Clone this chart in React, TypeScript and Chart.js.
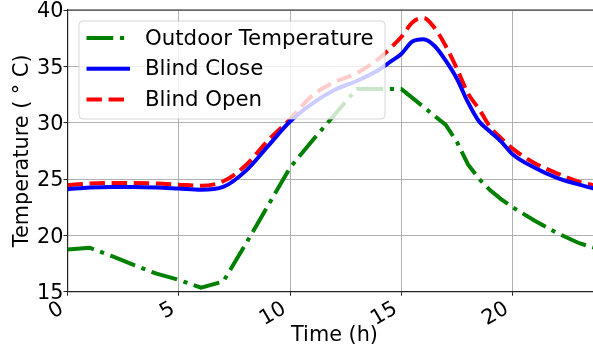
import React, { useEffect, useRef } from "react";
import { Chart, registerables } from "chart.js";

Chart.register(...registerables);

// Simulation time stamps (h)
const hours = [
  0, 1, 2, 3, 4, 5, 6, 7, 8, 9, 10, 11, 12, 13, 14, 14.5, 15, 15.5, 16, 16.5,
  17, 17.5, 18, 18.5, 19, 19.5, 20, 21, 22, 23, 24,
];

// Temperatures (°C) at each time stamp
const outdoorTemp = [
  18.75, 18.9, 18.15, 17.35, 16.6, 16.05, 15.35, 15.9, 19.2, 22.6, 26.0, 28.4,
  30.7, 33.0, 33.0, 33.0, 33.0, 32.2, 31.4, 30.6, 29.8, 28.3, 26.3, 25.0, 24.0,
  23.2, 22.5, 21.3, 20.2, 19.3, 18.7,
];
const blindClose = [
  24.1, 24.25, 24.3, 24.3, 24.25, 24.15, 24.05, 24.3, 25.7, 27.9, 30.1, 31.7,
  32.9, 33.7, 34.7, 35.4, 36.1, 37.2, 37.4, 36.8, 35.5, 33.9, 31.8, 30.1, 29.2,
  28.3, 27.2, 26.0, 25.1, 24.5, 24.0,
];
const blindOpen = [
  24.45, 24.6, 24.65, 24.65, 24.6, 24.5, 24.4, 24.8, 26.2, 28.4, 30.3, 32.4,
  33.6, 34.4, 35.7, 36.6, 37.6, 38.9, 39.3, 38.4, 36.8, 34.8, 32.6, 31.2, 29.6,
  28.6, 27.7, 26.4, 25.5, 24.75, 24.3,
];

const seriesLabels = ["Outdoor Temperature", "Blind Close", "Blind Open"];
const xTicks = [0, 5, 10, 15, 20];
const yTicks = [15, 20, 25, 30, 35, 40];

const FONT = "DejaVu Sans";
const FONT_SIZE = 20.8;

const toPoints = (ys: number[]) => hours.map((h, i) => ({ x: h, y: ys[i] }));

// Top spine of the axes frame
const topSpine = {
  id: "topSpine",
  afterDatasetsDraw(chart: any) {
    const { ctx, chartArea } = chart;
    ctx.save();
    ctx.strokeStyle = "#222";
    ctx.lineWidth = 1.2;
    ctx.beginPath();
    ctx.moveTo(chartArea.left, chartArea.top);
    ctx.lineTo(chartArea.right, chartArea.top);
    ctx.stroke();
    ctx.restore();
  },
};

// Framed legend drawn inside the plot, over the lines
const insetLegend = {
  id: "insetLegend",
  afterDatasetsDraw(chart: any) {
    const { ctx, chartArea } = chart;
    const x0 = chartArea.left + 11.5;
    const y0 = chartArea.top + 11;
    const w = 306;
    const h = 98;
    const r = 4;
    ctx.save();
    ctx.beginPath();
    ctx.moveTo(x0 + r, y0);
    ctx.lineTo(x0 + w - r, y0);
    ctx.arcTo(x0 + w, y0, x0 + w, y0 + r, r);
    ctx.lineTo(x0 + w, y0 + h - r);
    ctx.arcTo(x0 + w, y0 + h, x0 + w - r, y0 + h, r);
    ctx.lineTo(x0 + r, y0 + h);
    ctx.arcTo(x0, y0 + h, x0, y0 + h - r, r);
    ctx.lineTo(x0, y0 + r);
    ctx.arcTo(x0, y0, x0 + r, y0, r);
    ctx.closePath();
    ctx.fillStyle = "rgba(255,255,255,0.8)";
    ctx.fill();
    ctx.strokeStyle = "rgba(204,204,204,0.8)";
    ctx.lineWidth = 1;
    ctx.stroke();

    ctx.font = `21.3px "${FONT}"`;
    ctx.textBaseline = "middle";
    ctx.textAlign = "left";
    chart.data.datasets.forEach((ds: any, i: number) => {
      const cy = y0 + 17 + i * 30.8;
      ctx.save();
      ctx.strokeStyle = ds.borderColor;
      ctx.lineWidth = ds.borderWidth;
      ctx.setLineDash(ds.borderDash || []);
      ctx.lineCap = "butt";
      ctx.beginPath();
      ctx.moveTo(x0 + 7.5, cy);
      ctx.lineTo(x0 + 51, cy);
      ctx.stroke();
      ctx.restore();
      ctx.fillStyle = "#000";
      ctx.fillText(ds.label, x0 + 66, cy + 1);
    });
    ctx.restore();
  },
};

export default function App() {
  const canvasRef = useRef<HTMLCanvasElement | null>(null);

  useEffect(() => {
    if (!canvasRef.current) return;
    const chart = new Chart(canvasRef.current, {
      type: "line",
      data: {
        datasets: [
          {
            label: seriesLabels[0],
            data: toPoints(outdoorTemp),
            borderColor: "#008000",
            borderWidth: 4,
            borderDash: [26.7, 6.7, 4.2, 6.7],
            pointRadius: 0,
            tension: 0,
            fill: false,
          },
          {
            label: seriesLabels[1],
            data: toPoints(blindClose),
            borderColor: "#0000ff",
            borderWidth: 4,
            pointRadius: 0,
            cubicInterpolationMode: "monotone",
            fill: false,
          },
          {
            label: seriesLabels[2],
            data: toPoints(blindOpen),
            borderColor: "#ff0000",
            borderWidth: 4,
            borderDash: [15.4, 6.7],
            pointRadius: 0,
            cubicInterpolationMode: "monotone",
            fill: false,
          },
        ],
      },
      options: {
        responsive: false,
        animation: false,
        devicePixelRatio: 1,
        layout: { padding: { top: 10, right: 8.5, left: 0, bottom: 0 } },
        plugins: {
          legend: { display: false },
          tooltip: { enabled: false },
        },
        scales: {
          x: {
            type: "linear",
            min: 0,
            max: 24,
            afterBuildTicks: (scale: any) => {
              scale.ticks = xTicks.map((v) => ({ value: v }));
            },
            afterFit: (scale: any) => {
              scale.height = 55.3;
              scale.paddingLeft = 0;
              scale.paddingRight = 0;
            },
            ticks: {
              autoSkip: false,
              minRotation: 30,
              maxRotation: 30,
              labelOffset: -5.5,
              padding: 1,
              color: "#000",
              font: { family: FONT, size: FONT_SIZE },
            },
            grid: {
              color: "#b0b0b0",
              lineWidth: 1,
              drawTicks: true,
              tickLength: 4,
              tickColor: "#222",
              tickWidth: 1,
            },
            border: { display: true, color: "#222", width: 1.2 },
            title: {
              display: true,
              text: "Time (h)",
              color: "#000",
              font: { family: FONT, size: FONT_SIZE, lineHeight: 1 },
              padding: { top: 0, bottom: 0.5 },
            },
          },
          y: {
            type: "linear",
            min: 15,
            max: 40,
            afterBuildTicks: (scale: any) => {
              scale.ticks = yTicks.map((v) => ({ value: v }));
            },
            afterFit: (scale: any) => {
              scale.width = 67.5;
              scale.paddingTop = 0;
              scale.paddingBottom = 0;
            },
            ticks: {
              padding: 0,
              labelOffset: 2,
              color: "#000",
              font: { family: FONT, size: FONT_SIZE, lineHeight: 1 },
            },
            grid: {
              color: "#b0b0b0",
              lineWidth: 1,
              drawTicks: true,
              tickLength: 4,
              tickColor: "#222",
              tickWidth: 1,
            },
            border: { display: true, color: "#222", width: 1.2 },
            title: {
              display: true,
              text: "Temperature ( ° C)",
              color: "#000",
              font: { family: FONT, size: FONT_SIZE, lineHeight: 1 },
              padding: { top: 12.6, bottom: 0 },
            },
          },
        },
      },
      plugins: [topSpine, insetLegend],
    });
    return () => chart.destroy();
  }, []);

  return (
    <div
      style={{
        position: "absolute",
        left: 0,
        top: 0,
        width: 593,
        height: 347,
        overflow: "hidden",
        background: "#fff",
      }}
    >
      <canvas
        ref={canvasRef}
        width={610}
        height={347}
        style={{ display: "block" }}
      />
    </div>
  );
}
